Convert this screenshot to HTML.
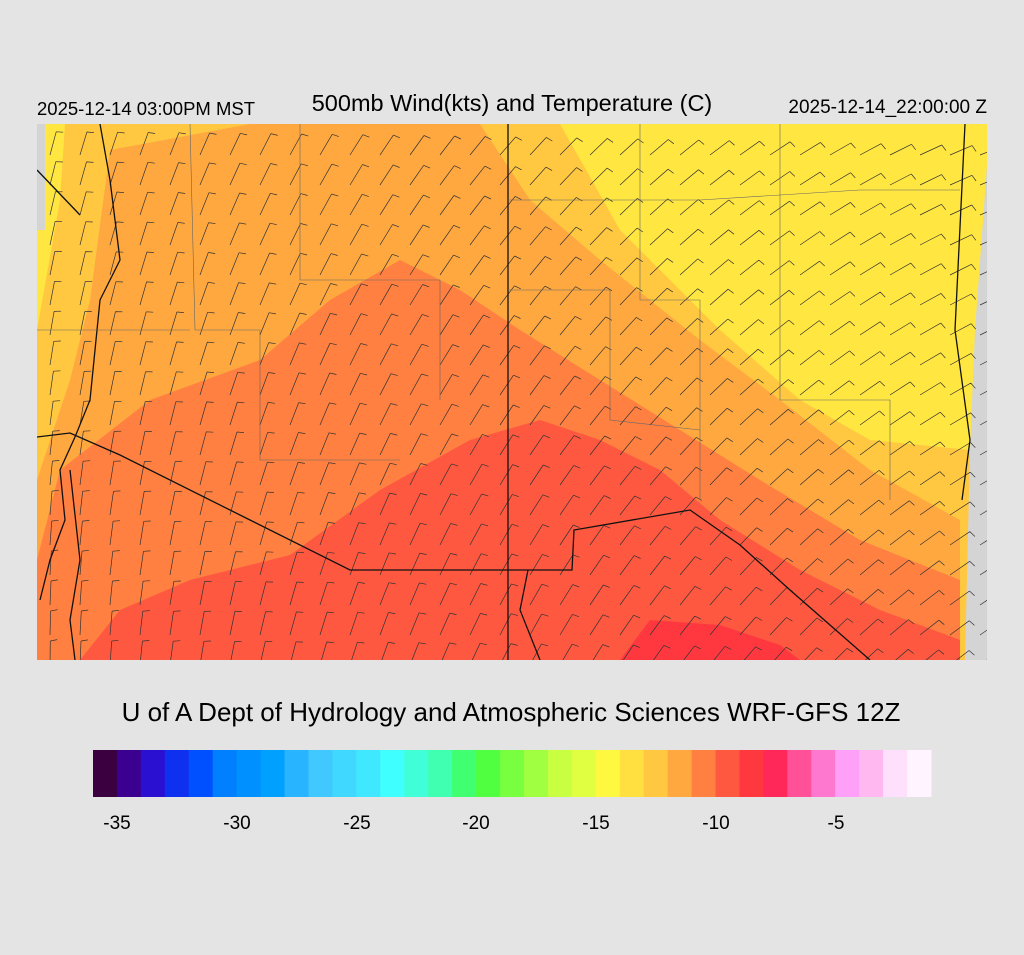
<!DOCTYPE html>
<html><head><meta charset="utf-8"><style>
body{margin:0;background:#e4e4e4;width:1024px;height:950px;overflow:hidden;font-family:"Liberation Sans",sans-serif}
</style></head><body>
<svg id="s" width="1024" height="950" xmlns="http://www.w3.org/2000/svg" font-family="Liberation Sans, sans-serif">
<rect width="1024" height="950" fill="#e4e4e4"/>
<defs><clipPath id="c"><rect x="37" y="124" width="950" height="536"/></clipPath></defs>
<g clip-path="url(#c)">
<rect x="37" y="124" width="950" height="536" fill="#d4d4d4"/>
<polygon points="45,124 990,124 975,330 970,450 960,660 37,660 37,230 45,230" fill="#ffe640"/>
<polygon points="65,124 560,124 620,230 720,330 800,400 870,440 970,450 965,660 37,660 37,330 60,200" fill="#ffc840"/>
<polygon points="110,150 250,124 480,124 530,200 600,260 700,340 780,400 870,470 960,520 960,660 37,660 37,480 70,380 90,300" fill="#ffa840"/>
<polygon points="37,560 60,470 150,400 260,360 330,300 400,260 460,290 520,330 600,380 680,430 760,480 860,540 960,580 960,660 37,660" fill="#ff8040"/>
<polygon points="80,660 120,610 190,580 290,555 380,490 470,440 540,420 600,440 660,470 720,520 800,570 880,610 960,640 960,660" fill="#ff5840"/>
<polygon points="620,660 650,620 720,625 780,645 800,660" fill="#ff3840"/>
<g id="barbs" stroke="#333" stroke-width="0.7" fill="none"></g>
<g stroke="#111" stroke-width="1.3" fill="none">
<polyline points="508,124 508,660"/>
<polyline points="37,437 70,433 120,455 250,520 350,570 572,570 574,530 690,510 740,545 790,590 830,625 870,660"/>
<polyline points="37,170 80,215"/>
<polyline points="100,124 110,180 120,260 100,300 90,400 75,437 60,470 65,520 50,560 40,600"/>
<polyline points="70,470 80,560 70,620 75,660"/>
<polyline points="528,570 520,610 540,660"/>
<polyline points="965,124 955,330 970,440 962,500"/>
</g>
<g stroke="#666" stroke-width="0.6" fill="none">
<polyline points="190,124 195,330 260,330 260,460 400,460"/>
<polyline points="300,124 300,280 440,280 440,400"/>
<polyline points="508,290 610,290 610,420 700,430"/>
<polyline points="640,124 640,300 700,300 700,500"/>
<polyline points="780,124 780,400 890,400 890,500"/>
<polyline points="37,330 190,330"/>
<polyline points="508,200 700,200 860,190 960,190"/>
</g>
</g>
<text x="37" y="115" font-size="18.5">2025-12-14 03:00PM MST</text>
<text x="512" y="111" font-size="23.5" text-anchor="middle">500mb Wind(kts) and Temperature (C)</text>
<text x="987" y="113" font-size="19" text-anchor="end">2025-12-14_22:00:00 Z</text>
<text x="511" y="721" font-size="26" text-anchor="middle">U of A Dept of Hydrology and Atmospheric Sciences WRF-GFS 12Z</text>
<g id="cb"></g>
<g font-size="19" text-anchor="middle">
<text x="117" y="829">-35</text><text x="237" y="829">-30</text><text x="357" y="829">-25</text><text x="476" y="829">-20</text><text x="596" y="829">-15</text><text x="716" y="829">-10</text><text x="836" y="829">-5</text>
</g>
</svg>
<script>
var cols=["#3a0040","#3c0090","#2a10d0","#1030f0","#0050ff","#0080ff","#0090ff","#00a0ff","#28b4ff","#40c8ff","#40d8ff","#40e8ff","#40ffff","#40ffd8","#40ffb0","#40ff70","#50ff40","#78ff40","#a0ff40","#c8ff40","#e0ff40","#fff840","#ffe040","#ffc840","#ffa840","#ff8040","#ff5840","#ff3840","#ff2858","#ff5098","#ff78d0","#ffa0f8","#ffb8f0","#ffe0fc","#fff4ff"];
var ns="http://www.w3.org/2000/svg",cb=document.getElementById("cb"),w=838/35;
cols.forEach(function(c,i){var r=document.createElementNS(ns,"rect");r.setAttribute("x",93+i*w);r.setAttribute("y",750);r.setAttribute("width",w+0.5);r.setAttribute("height",47);r.setAttribute("fill",c);cb.appendChild(r);});
var b=document.getElementById("barbs"),d="";
for(var y=155;y<670;y+=30)for(var x=50;x<990;x+=30){
var t=(x-37)/950,u=(y-124)/536;
var a=(75-55*t+15*u)*Math.PI/180;var L=24;
var ex=x+L*Math.cos(a),ey=y-L*Math.sin(a);
d+="M"+x+" "+y+"L"+ex.toFixed(1)+" "+ey.toFixed(1);
var px=ex,py=ey,fa=a-Math.PI/2.3;d+="M"+px.toFixed(1)+" "+py.toFixed(1)+"l"+(7*Math.cos(fa)).toFixed(1)+" "+(-7*Math.sin(fa)).toFixed(1);
}
var p=document.createElementNS(ns,"path");p.setAttribute("d",d);b.appendChild(p);
</script>
</body></html>
